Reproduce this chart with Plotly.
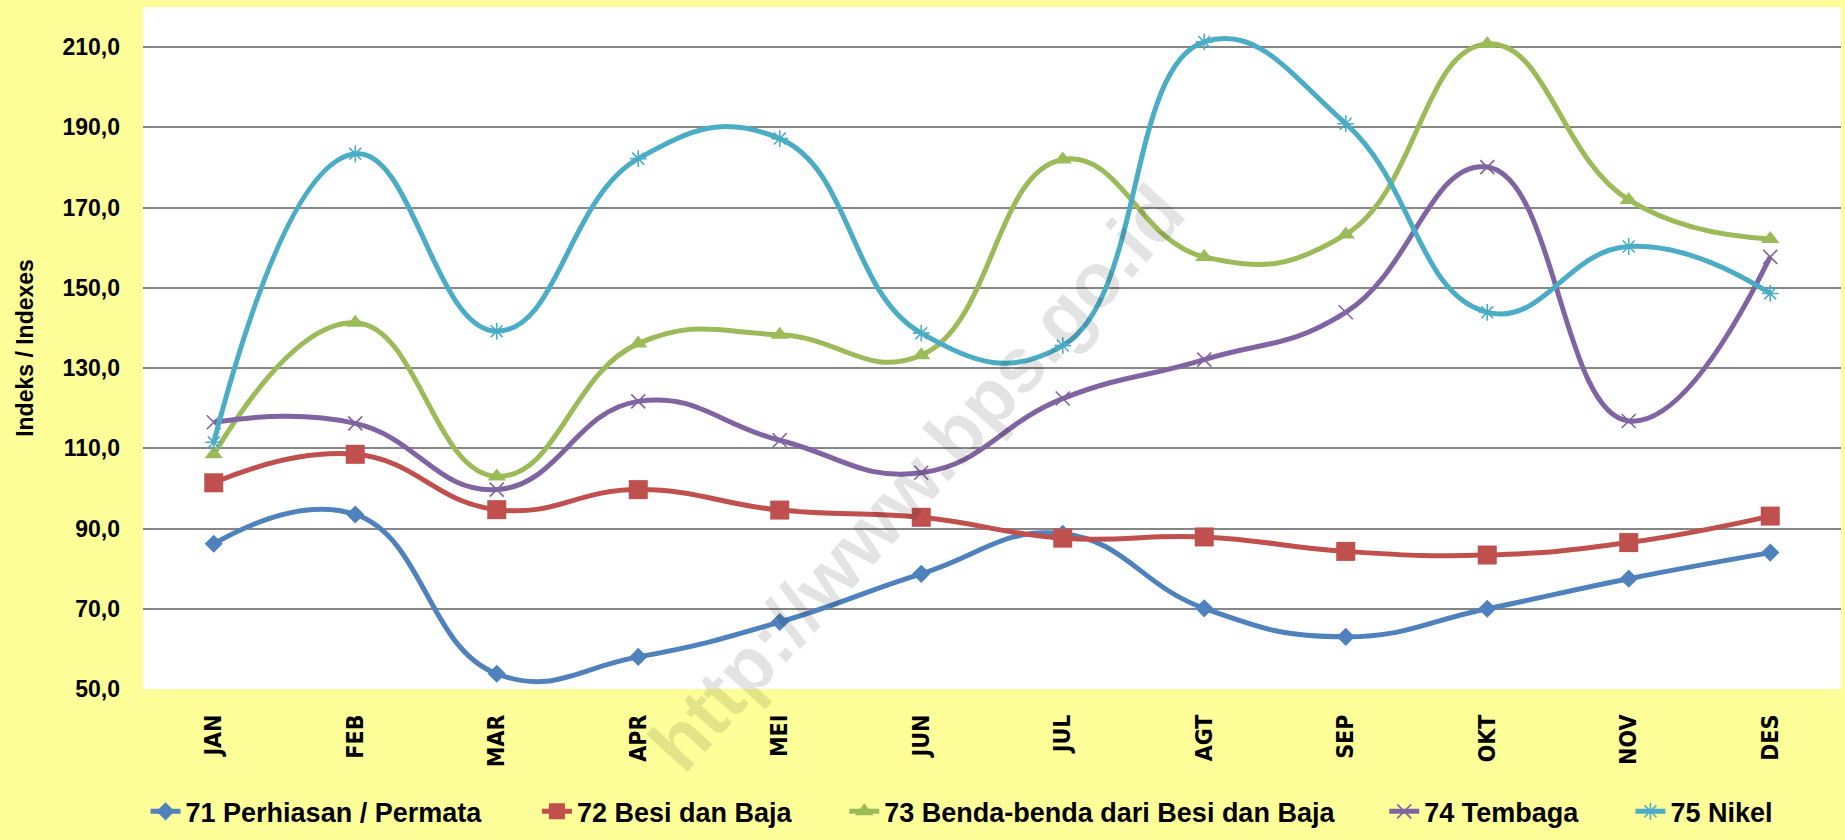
import plotly.graph_objects as go

months = ["JAN", "FEB", "MAR", "APR", "MEI", "JUN", "JUL", "AGT", "SEP", "OKT", "NOV", "DES"]

s71 = [86.2, 93.5, 53.8, 58.0, 66.7, 78.7, 88.7, 70.1, 63.0, 70.0, 77.5, 84.0]
s72 = [101.4, 108.5, 94.7, 99.7, 94.6, 92.8, 87.6, 87.9, 84.3, 83.4, 86.5, 93.1]
s73 = [108.5, 141.3, 103.0, 136.1, 138.3, 133.2, 182.0, 157.7, 163.3, 210.8, 171.9, 162.2]
s74 = [116.5, 116.2, 99.7, 121.7, 112.0, 103.9, 122.4, 132.1, 143.9, 180.1, 116.8, 157.7]
s75 = [111.5, 183.4, 139.2, 182.2, 187.2, 138.7, 135.6, 211.3, 190.9, 143.9, 160.3, 148.6]

names = [
    "71 Perhiasan / Permata",
    "72 Besi dan Baja",
    "73 Benda-benda dari Besi dan Baja",
    "74 Tembaga",
    "75 Nikel",
]
y_ticks = [50, 70, 90, 110, 130, 150, 170, 190, 210]

series = [s71, s72, s73, s74, s75]
colors = ["#4F81BD", "#C0504D", "#9BBB59", "#8064A2", "#4BACC6"]
markers = [
    dict(symbol="diamond", size=14),
    dict(symbol="square", size=19),
    dict(symbol="triangle-up", size=16),
    dict(symbol="x-thin", size=14, line=dict(width=1.6)),
    dict(symbol="asterisk", size=14, line=dict(width=1.6)),
]
# left edge of each legend entry, in paper units along the bottom row
legend_x = [0.0015, 0.232, 0.413, 0.731, 0.876]

FONT = "Liberation Sans"
NARROW = "DejaVu Sans Condensed, Liberation Sans"

fig = go.Figure()
legend_keys = ["legend", "legend2", "legend3", "legend4", "legend5"]
for key, name, vals, col, mk in zip(legend_keys, names, series, colors, markers):
    m = dict(mk)
    m["color"] = col
    if "line" in m:
        m["line"] = dict(m["line"], color=col)
    fig.add_trace(go.Scatter(
        x=months, y=vals, name=name, mode="lines+markers",
        line=dict(color=col, width=5, shape="spline", smoothing=1.3),
        marker=m, legend=key,
    ))

legend_style = dict(
    orientation="h", y=-0.180, yanchor="middle", xanchor="left",
    font=dict(family=FONT, size=27, color="#000000", weight="bold"),
    bgcolor="rgba(0,0,0,0)", borderwidth=0,
)
layout_legends = {k: dict(legend_style, x=x) for k, x in zip(legend_keys, legend_x)}

fig.update_layout(
    width=1845, height=840,
    paper_bgcolor="#FFFF99",
    plot_bgcolor="#FFFFFF",
    margin=dict(l=143, r=4, t=7, b=145),
    separators=",.",
    font=dict(family=FONT, color="#000000"),
    showlegend=True,
    annotations=[dict(
        text="http://www.bps.go.id", x=0.455, y=0.31, xref="paper", yref="paper",
        xanchor="center", yanchor="middle",
        showarrow=False, textangle=-48,
        font=dict(family=FONT, size=77, color="rgba(0,0,0,0.11)", weight="bold"),
    )],
    **layout_legends,
)

fig.update_xaxes(
    type="category", range=[-0.5, 11.5],
    showgrid=False, zeroline=False, showline=False,
    ticks="", tickangle=-90, ticklabelstandoff=20,
    tickfont=dict(family=NARROW, size=23, color="#000000", weight="bold"),
)
fig.update_yaxes(
    range=[50, 220], tickmode="array", tickvals=y_ticks, tickformat=".1f",
    showgrid=True, gridcolor="#868686", gridwidth=2,
    zeroline=False, showline=False, ticks="", ticklabelstandoff=22,
    tickfont=dict(family=FONT, size=23, color="#000000", weight="bold"),
    title=dict(text="Indeks / Indexes", standoff=22,
               font=dict(family=FONT, size=23, color="#000000", weight="bold")),
)

fig.write_html("out.html")
